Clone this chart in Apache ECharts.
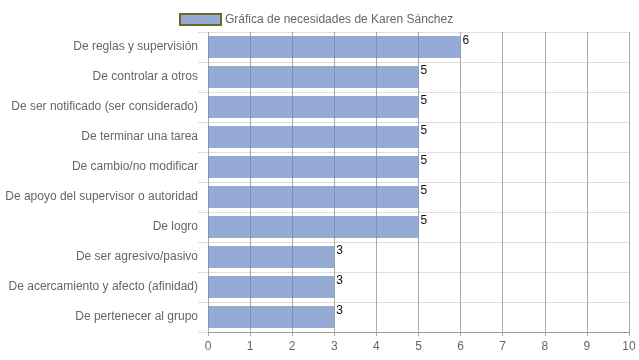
<!DOCTYPE html>
<html><head><meta charset="utf-8">
<script src="https://cdn.jsdelivr.net/npm/echarts@6/dist/echarts.min.js"></script>
<style>html,body{margin:0;padding:0;background:#fff}#c{width:639px;height:360px}</style>
</head><body><div id="c"></div>
<script>
const categories = ["De reglas y supervisión","De controlar a otros","De ser notificado (ser considerado)","De terminar una tarea","De cambio/no modificar","De apoyo del supervisor o autoridad","De logro","De ser agresivo/pasivo","De acercamiento y afecto (afinidad)","De pertenecer al grupo"];
const values = [6,5,5,5,5,5,5,3,3,3];
const seriesName = "Gráfica de necesidades de Karen Sánchez";
const chart = echarts.init(document.getElementById('c'));
chart.setOption({
  animation:false,
  textStyle:{fontFamily:'Arial, Liberation Sans, sans-serif'},
  legend:{top:8,left:174,itemWidth:41,itemHeight:11,itemGap:8,
    textStyle:{color:'#666',fontSize:12,padding:[0,0,0,-1]},
    data:[{name:seriesName,icon:'rect',itemStyle:{color:'#95aad5',borderColor:'#6b6b1e',borderWidth:2}}]},
  grid:{left:208,right:10,top:32,bottom:28,containLabel:false},
  xAxis:{type:'value',min:0,max:10,interval:1,
    axisLine:{show:true,lineStyle:{color:'#999'}},
    axisTick:{show:true,length:4,lineStyle:{color:'#aaa'}},
    axisLabel:{color:'#666',fontSize:12,margin:9},
    splitLine:{show:true,lineStyle:{color:'#aaa'}}},
  yAxis:{type:'category',inverse:true,data:categories,
    axisLine:{show:false},
    axisTick:{show:true,length:10,lineStyle:{color:'#ddd'}},
    axisLabel:{color:'#666',fontSize:12,margin:10},
    splitLine:{show:true,lineStyle:{color:'#ddd'}}},
  series:[{name:seriesName,type:'bar',data:values,barCategoryGap:'26%',
    itemStyle:{color:'rgba(104,134,195,0.7)'},
    label:{show:true,position:'right',distance:2,offset:[0,-6],color:'#111',fontSize:12}}]
});
</script></body></html>
